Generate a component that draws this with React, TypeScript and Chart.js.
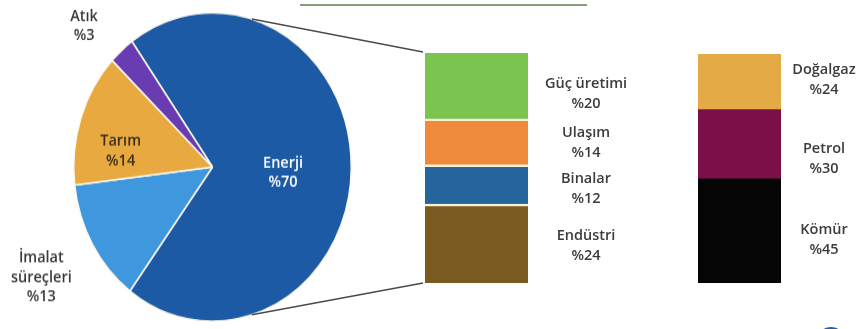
import React, { useEffect, useRef } from "react";
import { Chart, registerables } from "chart.js";

Chart.register(...registerables);

// ---- data ----
const pieLabels = ["Enerji", "İmalat süreçleri", "Tarım", "Atık"];
const pieValues = [70, 13, 14, 3];

// energy breakdown, bottom to top
const energyLabels = ["Endüstri", "Binalar", "Ulaşım", "Güç üretimi"];
const energyValues = [24, 12, 14, 20];

// fossil fuel breakdown, bottom to top
const fossilLabels = ["Kömür", "Petrol", "Doğalgaz"];
const fossilValues = [45, 30, 24];

// ---- styles ----
const pieColors = ["#1d5aa6", "#3f98dd", "#e8a940", "#6a3cb2"];
const pieTextColors = ["#ffffff", "#3a3a3a", "#3b2f1c", "#3a3a3a"];
const pieLabelRadius = [0.51, 1.426, 0.67, 1.3];
const pieLabelAngleShift = [3.7, 0, -9.7, -4.5];
const energyColors = ["#7b5a1f", "#25659b", "#ef8a3c", "#7bc450"];
const energyLabelNudge = [2, 4.5, 1, 8];
const fossilColors = ["#050505", "#7b1048", "#e4aa45"];
const fossilLabelNudge = [9, 15, -2];

const FONT = '600 14.5px "Open Sans", "DejaVu Sans", sans-serif';
const TEXT = "#3c3c3c";
const PIE_W = 430;
const PIE_H = 296;
const SY = 329 / PIE_H;
const BAR1_LEFT = 230;
const BAR2_LEFT = 660;

const sum = (a: number[]) => a.reduce((s, v) => s + v, 0);

export default function App() {
  const pieRef = useRef<HTMLCanvasElement | null>(null);
  const bar1Ref = useRef<HTMLCanvasElement | null>(null);
  const bar2Ref = useRef<HTMLCanvasElement | null>(null);

  useEffect(() => {
    const pieLabelPlugin = {
      id: "pieLabels",
      afterDatasetsDraw(chart: any) {
        const ctx = chart.ctx;
        const meta = chart.getDatasetMeta(0);
        ctx.save();
        ctx.font = FONT;
        ctx.textAlign = "center";
        ctx.textBaseline = "middle";
        meta.data.forEach((el: any, i: number) => {
          const p = el.getProps(["x", "y", "startAngle", "endAngle", "outerRadius"], true);
          const mid = (p.startAngle + p.endAngle) / 2 + (pieLabelAngleShift[i] * Math.PI) / 180;
          const r = p.outerRadius * pieLabelRadius[i];
          const cx = p.x + Math.cos(mid) * r;
          const cy = p.y + Math.sin(mid) * r;
          const lines = [...pieLabels[i].split(" "), "%" + pieValues[i]];
          const lh = 19.5 / SY;
          ctx.fillStyle = pieTextColors[i];
          lines.forEach((t, j) => {
            ctx.fillText(t, cx, cy + (j - (lines.length - 1) / 2) * lh);
          });
        });
        ctx.restore();
      },
    };

    const pie = new Chart(pieRef.current as HTMLCanvasElement, {
      type: "pie",
      data: {
        labels: pieLabels,
        datasets: [
          {
            data: pieValues,
            backgroundColor: pieColors,
            borderColor: "#fbf8ec",
            borderWidth: 1.5,
          },
        ],
      },
      options: {
        responsive: false,
        animation: false,
        rotation: -35.5,
        layout: { padding: { left: 73, right: 78, top: 10.7, bottom: 6.3 } },
        plugins: { legend: { display: false }, tooltip: { enabled: false } },
      },
      plugins: [pieLabelPlugin],
    });

    const makeLabelPlugin = (labels: string[], values: number[], offset: number, nudge: number[]) => ({
      id: "barLabels",
      afterDatasetsDraw(chart: any) {
        const ctx = chart.ctx;
        ctx.save();
        ctx.font = FONT;
        ctx.fillStyle = TEXT;
        ctx.textAlign = "center";
        ctx.textBaseline = "middle";
        labels.forEach((name, i) => {
          const el = chart.getDatasetMeta(i).data[0];
          const p = el.getProps(["x", "y", "base", "width"], true);
          const cx = p.x + p.width / 2 + offset;
          const cy = (p.y + p.base) / 2 + nudge[i];
          ctx.fillText(name, cx, cy - 10);
          ctx.fillText("%" + values[i], cx, cy + 10);
        });
        ctx.restore();
      },
    });

    const connectorPlugin = {
      id: "connector",
      afterDraw(chart: any) {
        const ctx = chart.ctx;
        const pm = pie.getDatasetMeta(0).data[0] as any;
        const pp = pm.getProps(["x", "y", "outerRadius"], true);
        const pcx = pp.x - BAR1_LEFT;
        const pcy = pp.y * SY;
        const rx = pp.outerRadius;
        const ry = pp.outerRadius * SY;
        const th = (16.5 * Math.PI) / 180;
        const top = chart.getDatasetMeta(energyLabels.length - 1).data[0].getProps(["x", "y", "width"], true);
        const bot = chart.getDatasetMeta(0).data[0].getProps(["x", "base", "width"], true);
        const bx = top.x - top.width / 2 - 2;
        ctx.save();
        ctx.strokeStyle = "#4a4a4a";
        ctx.lineWidth = 1.5;
        ctx.beginPath();
        ctx.moveTo(pcx + rx * Math.sin(th), pcy - ry * Math.cos(th));
        ctx.lineTo(bx, top.y - 1);
        ctx.moveTo(pcx + rx * Math.sin(th), pcy + ry * Math.cos(th));
        ctx.lineTo(bx, bot.base);
        ctx.stroke();
        // header rule fragment
        ctx.strokeStyle = "#5d7f52";
        ctx.lineWidth = 1.6;
        ctx.beginPath();
        ctx.moveTo(300 - BAR1_LEFT, 5);
        ctx.lineTo(587 - BAR1_LEFT, 5);
        ctx.stroke();
        ctx.restore();
      },
    };

    const logoPlugin = {
      id: "logo",
      afterDraw(chart: any) {
        const ctx = chart.ctx;
        ctx.save();
        ctx.fillStyle = "#2b5f9c";
        ctx.beginPath();
        ctx.arc(831 - BAR2_LEFT, 342, 15, 0, Math.PI * 2);
        ctx.fill();
        ctx.restore();
      },
    };

    const barConfig = (labels: string[], values: number[], colors: string[], gap: boolean, padding: any, plugins: any[]) =>
      ({
        type: "bar",
        data: {
          labels: [""],
          datasets: values.map((v, i) => ({
            label: labels[i],
            data: [v],
            backgroundColor: colors[i],
            borderColor: "#f7f1d3",
            borderWidth: gap && i < values.length - 1 ? { top: 2.5, bottom: 0, left: 0, right: 0 } : 0,
            borderSkipped: false,
            barPercentage: 1,
            categoryPercentage: 1,
          })),
        },
        options: {
          responsive: false,
          animation: false,
          layout: { padding },
          scales: {
            x: { display: false, stacked: true },
            y: { display: false, stacked: true, min: 0, max: sum(values) },
          },
          plugins: { legend: { display: false }, tooltip: { enabled: false } },
        },
        plugins,
      } as any);

    const bar1 = new Chart(
      bar1Ref.current as HTMLCanvasElement,
      barConfig(energyLabels, energyValues, energyColors, true, { left: 195, right: 132, top: 53, bottom: 46 }, [
        makeLabelPlugin(energyLabels, energyValues, 58, energyLabelNudge),
        connectorPlugin,
      ])
    );

    const bar2 = new Chart(
      bar2Ref.current as HTMLCanvasElement,
      barConfig(fossilLabels, fossilValues, fossilColors, false, { left: 38, right: 82, top: 54, bottom: 46 }, [
        makeLabelPlugin(fossilLabels, fossilValues, 43, fossilLabelNudge),
        logoPlugin,
      ])
    );

    return () => {
      pie.destroy();
      bar1.destroy();
      bar2.destroy();
    };
  }, []);

  return (
    <div
      style={{
        position: "fixed",
        left: 0,
        top: 0,
        width: 863,
        height: 329,
        background: "#ffffff",
        overflow: "hidden",
      }}
    >
      <div
        style={{
          position: "absolute",
          left: 0,
          top: 0,
          width: PIE_W,
          height: PIE_H,
          transform: `scaleY(${SY})`,
          transformOrigin: "0 0",
        }}
      >
        <canvas ref={pieRef} width={PIE_W} height={PIE_H} style={{ width: PIE_W, height: PIE_H, display: "block" }} />
      </div>
      <canvas
        ref={bar1Ref}
        width={430}
        height={329}
        style={{ position: "absolute", left: BAR1_LEFT, top: 0, width: 430, height: 329 }}
      />
      <canvas
        ref={bar2Ref}
        width={203}
        height={329}
        style={{ position: "absolute", left: BAR2_LEFT, top: 0, width: 203, height: 329 }}
      />
    </div>
  );
}
